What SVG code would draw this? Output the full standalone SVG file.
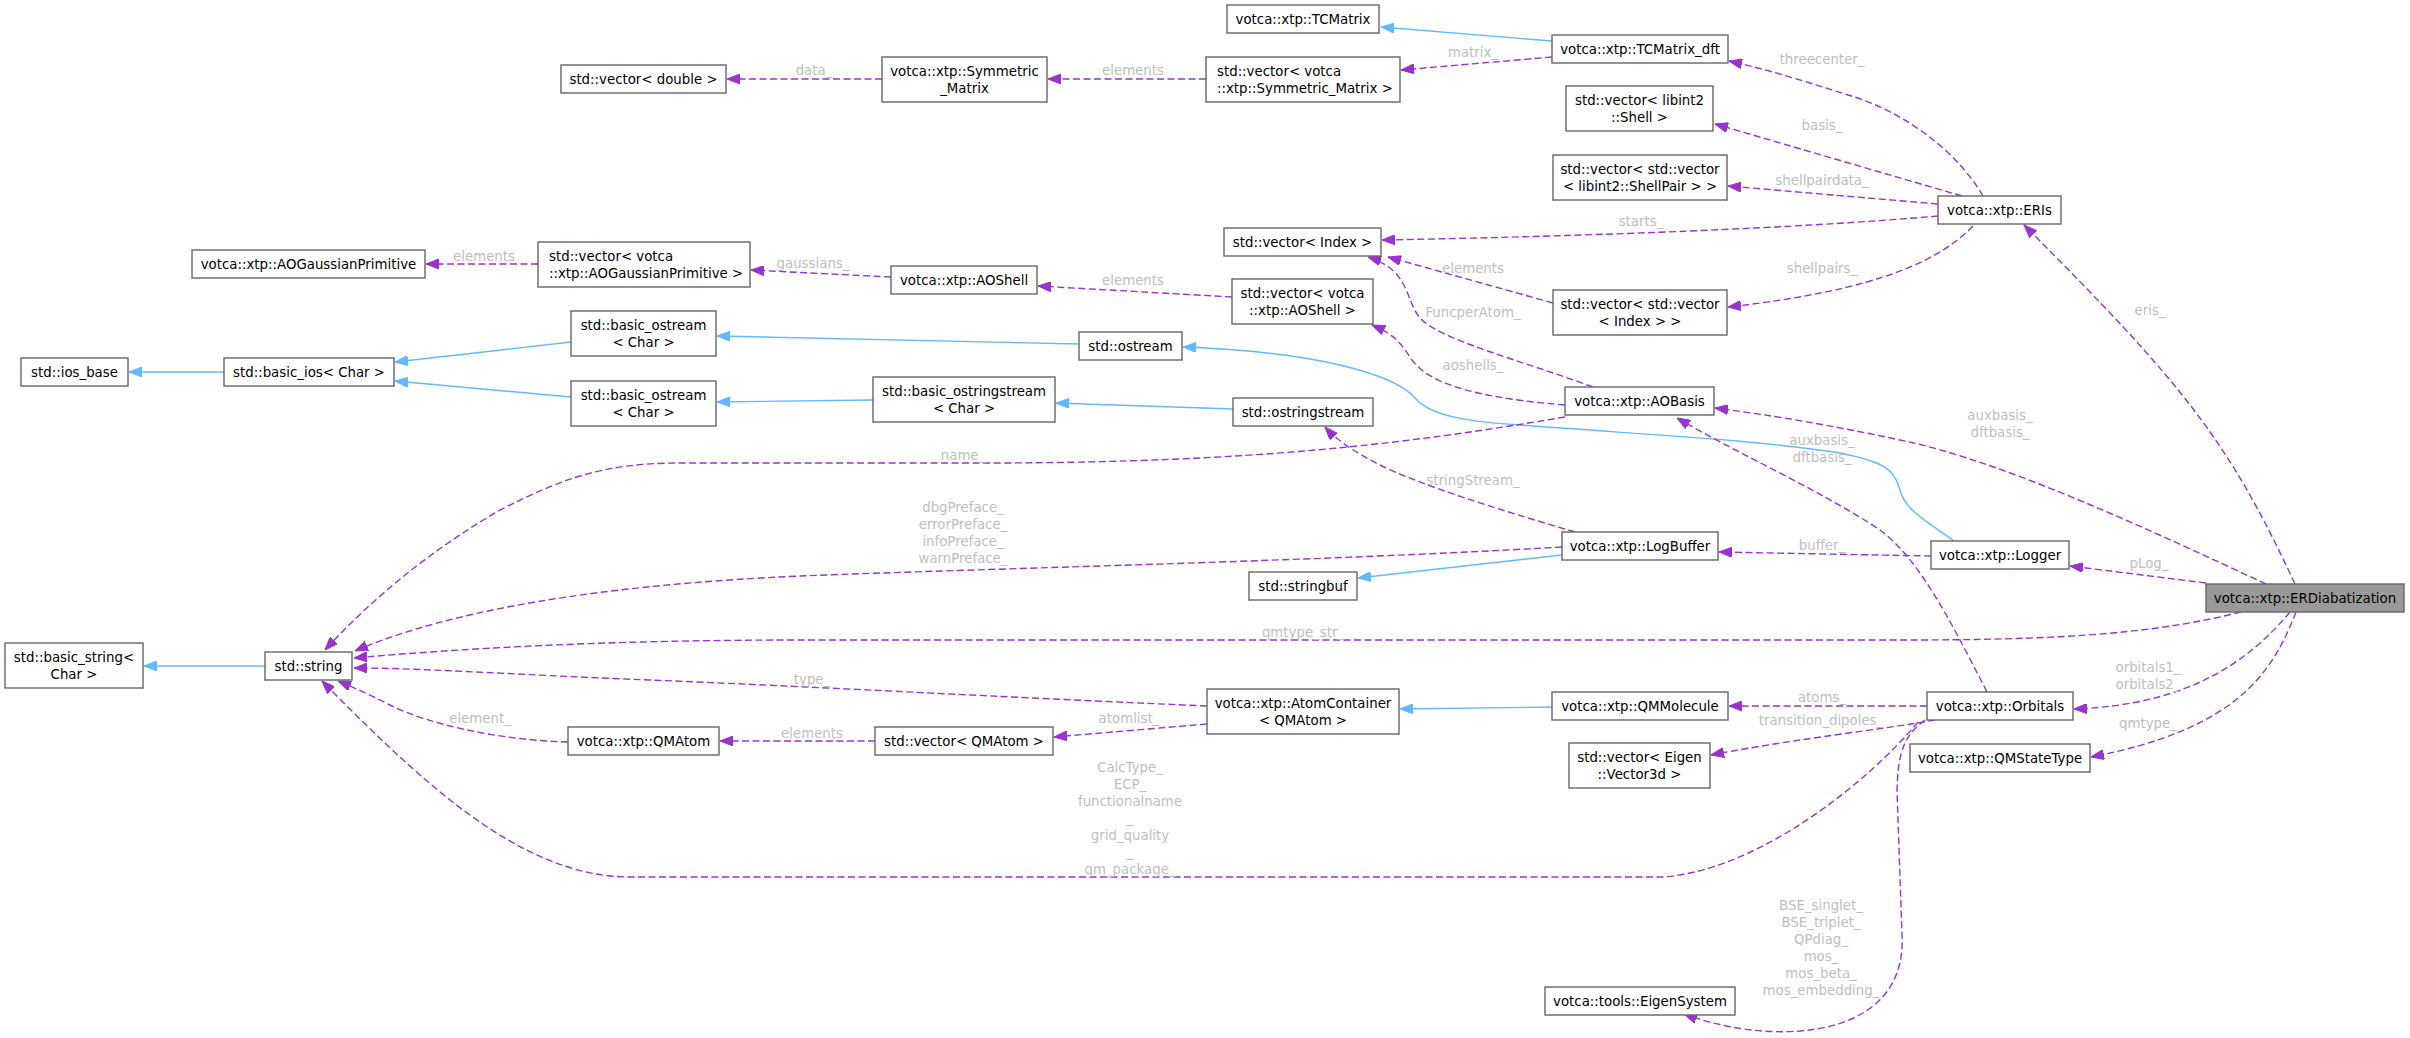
<svg xmlns="http://www.w3.org/2000/svg" width="2410" height="1038" viewBox="0 0 2410 1038">
<style>
.node rect{fill:#ffffff;stroke:#666666;stroke-width:1.4}
.node rect.main{fill:#999999}
.node text{font-family:"DejaVu Sans","Liberation Sans",sans-serif;font-size:13.33px;fill:#000000;text-anchor:middle}
.node text.l{text-anchor:start}
.e{fill:none;stroke:#9a32cd;stroke-width:1.4;stroke-dasharray:7,3.5;marker-end:url(#ap)}
.b{fill:none;stroke:#63b8ff;stroke-width:1.4;marker-end:url(#ab)}
.lbl{font-family:"DejaVu Sans","Liberation Sans",sans-serif;font-size:13.33px;fill:#bebebe;text-anchor:middle}
</style>
<defs>
<marker id="ap" viewBox="0 0 13 10" refX="13" refY="5" markerWidth="13" markerHeight="10" markerUnits="userSpaceOnUse" orient="auto"><path d="M0,0 L13,5 L0,10 z" fill="#9a32cd" stroke="#9a32cd" stroke-width="1"/></marker>
<marker id="ab" viewBox="0 0 13 10" refX="13" refY="5" markerWidth="13" markerHeight="10" markerUnits="userSpaceOnUse" orient="auto"><path d="M0,0 L13,5 L0,10 z" fill="#63b8ff" stroke="#63b8ff" stroke-width="1"/></marker>
</defs>
<rect width="2410" height="1038" fill="#ffffff"/>
<g id="connectors">
<path class="b" d="M1552,41 L1381,27"/>
<path class="b" d="M224,372 L129,372"/>
<path class="b" d="M571,342 L395,362"/>
<path class="b" d="M571,397 L395,381"/>
<path class="b" d="M1079,344 L717,336"/>
<path class="b" d="M873,400 L717,402"/>
<path class="b" d="M1233,409 L1056,403"/>
<path class="b" d="M1954,541 C1925,520 1905,510 1900,490 C1895,470 1885,462 1840,453 C1760,440 1650,435 1520,425 C1460,421 1430,415 1415,398 C1395,375 1320,352 1183,347"/>
<path class="b" d="M1562,555 L1358,578"/>
<path class="b" d="M1552,707 L1400,709"/>
<path class="b" d="M265,666 L144,666"/>

<path class="e" d="M882,79 L727,79"/>
<text class="lbl" x="814" y="74.5">data_</text>
<path class="e" d="M1206,79 L1048,79"/>
<text class="lbl" x="1133" y="74.5">elements</text>
<path class="e" d="M1552,57 L1401,70"/>
<text class="lbl" x="1473" y="56.5">matrix_</text>
<path class="e" d="M1983,196 C1955,148 1900,110 1848,95 C1810,83 1770,70 1729,61"/>
<text class="lbl" x="1822" y="63.5">threecenter_</text>
<path class="e" d="M1962,196 L1715,124"/>
<text class="lbl" x="1822" y="129.5">basis_</text>
<path class="e" d="M1938,204 L1728,186"/>
<text class="lbl" x="1822" y="184.5">shellpairdata_</text>
<path class="e" d="M1938,216 C1800,228 1600,236 1382,240"/>
<text class="lbl" x="1641" y="225.5">starts_</text>
<path class="e" d="M1973,226 C1940,260 1880,290 1728,307"/>
<text class="lbl" x="1822" y="272.5">shellpairs_</text>
<path class="e" d="M1553,303 L1388,257"/>
<text class="lbl" x="1473" y="272.5">elements</text>
<path class="e" d="M1593,387 C1520,360 1440,340 1420,318 C1405,300 1410,270 1368,257"/>
<text class="lbl" x="1473" y="316.5">FuncperAtom_</text>
<path class="e" d="M1565,405 C1480,398 1430,385 1412,360 C1400,342 1395,335 1372,325"/>
<text class="lbl" x="1473" y="369.5">aoshells_</text>
<path class="e" d="M1232,297 L1038,286"/>
<text class="lbl" x="1133" y="284.5">elements</text>
<path class="e" d="M891,277 L751,270"/>
<text class="lbl" x="813" y="267.5">gaussians_</text>
<path class="e" d="M538,264 L426,264"/>
<text class="lbl" x="484" y="260.5">elements</text>
<path class="e" d="M2295,584 C2228,440 2183,384 2024,225"/>
<text class="lbl" x="2150" y="314.5">eris_</text>
<path class="e" d="M2266,584 C2150,530 2000,460 1900,440 C1830,425 1770,415 1715,408"/>
<text class="lbl" x="2000" y="419.5">auxbasis_</text>
<text class="lbl" x="2000" y="436.5">dftbasis_</text>
<path class="e" d="M1987,692 C1950,620 1920,560 1880,530 C1820,490 1740,455 1677,418"/>
<text class="lbl" x="1822" y="444.5">auxbasis_</text>
<text class="lbl" x="1822" y="461.5">dftbasis_</text>
<path class="e" d="M1931,556 L1719,552"/>
<text class="lbl" x="1822" y="549.5">buffer_</text>
<path class="e" d="M2206,583 L2070,566"/>
<text class="lbl" x="2149" y="567.5">pLog_</text>
<path class="e" d="M2241,612 C2150,635 2050,640 1900,640 L800,640 C650,640 500,645 354,658"/>
<text class="lbl" x="1303" y="636.5">qmtype_str_</text>
<path class="e" d="M1562,547 C1300,562 1000,568 800,576 C600,585 450,610 355,651"/>
<text class="lbl" x="963" y="511.5">dbgPreface_</text>
<text class="lbl" x="963" y="528.5">errorPreface_</text>
<text class="lbl" x="963" y="545.5">infoPreface_</text>
<text class="lbl" x="963" y="562.5">warnPreface_</text>
<path class="e" d="M1565,417 C1400,445 1250,462 1000,463 L680,463 C600,463 560,480 500,510 C440,545 380,590 325,650"/>
<text class="lbl" x="963" y="459.5">name_</text>
<path class="e" d="M1575,532 C1500,510 1420,485 1380,465 C1350,450 1335,438 1325,427"/>
<text class="lbl" x="1473" y="484.5">stringStream_</text>
<path class="e" d="M1207,706 C1000,697 800,686 650,680 C500,674 420,668 354,668"/>
<text class="lbl" x="812" y="683.5">type_</text>
<path class="e" d="M1207,724 L1054,737"/>
<text class="lbl" x="1129" y="722.5">atomlist_</text>
<path class="e" d="M875,741 L720,741"/>
<text class="lbl" x="812" y="737.5">elements</text>
<path class="e" d="M568,742 C500,740 430,725 390,705 C370,695 355,688 338,681"/>
<text class="lbl" x="480" y="722.5">element_</text>
<path class="e" d="M1918,722 C1870,780 1760,870 1663,877 L630,877 C520,877 420,780 322,681"/>
<text class="lbl" x="1130" y="771.5">CalcType_</text>
<text class="lbl" x="1130" y="788.5">ECP_</text>
<text class="lbl" x="1130" y="805.5">functionalname</text>
<text class="lbl" x="1130" y="822.5">_</text>
<text class="lbl" x="1130" y="839.5">grid_quality</text>
<text class="lbl" x="1130" y="856.5">_</text>
<text class="lbl" x="1130" y="873.5">qm_package_</text>
<path class="e" d="M1925,720 C1905,735 1898,750 1897,790 L1902,935 C1905,990 1870,1025 1800,1031 C1760,1034 1720,1027 1684,1014"/>
<text class="lbl" x="1821" y="909.5">BSE_singlet_</text>
<text class="lbl" x="1821" y="926.5">BSE_triplet_</text>
<text class="lbl" x="1821" y="943.5">QPdiag_</text>
<text class="lbl" x="1821" y="960.5">mos_</text>
<text class="lbl" x="1821" y="977.5">mos_beta_</text>
<text class="lbl" x="1821" y="994.5">mos_embedding_</text>
<path class="e" d="M1927,706 L1729,706"/>
<text class="lbl" x="1822" y="701.5">atoms_</text>
<path class="e" d="M1935,720 C1880,730 1800,738 1711,755"/>
<text class="lbl" x="1821" y="724.5">transition_dipoles_</text>
<path class="e" d="M2290,612 C2250,660 2190,705 2074,709"/>
<text class="lbl" x="2148" y="671.5">orbitals1_</text>
<text class="lbl" x="2148" y="688.5">orbitals2_</text>
<path class="e" d="M2296,612 C2270,680 2230,730 2091,757"/>
<text class="lbl" x="2148" y="727.5">qmtype_</text>
</g>

<g id="n_vecdouble" class="node"><rect x="561" y="65" width="165" height="28"/><text x="643.5" y="83.7">std::vector&lt; double &gt;</text></g>
<g id="n_symmat" class="node"><rect x="882" y="57" width="165" height="45"/><text x="964.5" y="75.7">votca::xtp::Symmetric</text><text x="964.5" y="92.7">_Matrix</text></g>
<g id="n_vecsymmat" class="node"><rect x="1206" y="57" width="194" height="45"/><text class="l" x="1217" y="75.7">std::vector&lt; votca</text><text class="l" x="1217" y="92.7">::xtp::Symmetric_Matrix &gt;</text></g>
<g id="n_tcmatrix" class="node"><rect x="1227" y="5" width="152" height="28"/><text x="1303" y="23.7">votca::xtp::TCMatrix</text></g>
<g id="n_tcmatrixdft" class="node"><rect x="1552" y="35" width="176" height="28"/><text x="1640" y="53.7">votca::xtp::TCMatrix_dft</text></g>
<g id="n_vecshell" class="node"><rect x="1566" y="86" width="147" height="45"/><text x="1639.5" y="104.7">std::vector&lt; libint2</text><text x="1639.5" y="121.7">::Shell &gt;</text></g>
<g id="n_vecshellpair" class="node"><rect x="1553" y="155" width="174" height="45"/><text x="1640" y="173.7">std::vector&lt; std::vector</text><text x="1640" y="190.7">&lt; libint2::ShellPair &gt; &gt;</text></g>
<g id="n_vecindex" class="node"><rect x="1224" y="228" width="157" height="28"/><text x="1302.5" y="246.7">std::vector&lt; Index &gt;</text></g>
<g id="n_vecvecindex" class="node"><rect x="1553" y="290" width="174" height="45"/><text x="1640" y="308.7">std::vector&lt; std::vector</text><text x="1640" y="325.7">&lt; Index &gt; &gt;</text></g>
<g id="n_eris" class="node"><rect x="1938" y="196" width="123" height="28"/><text x="1999.5" y="214.7">votca::xtp::ERIs</text></g>
<g id="n_aogp" class="node"><rect x="192" y="250" width="233" height="28"/><text x="308.5" y="268.7">votca::xtp::AOGaussianPrimitive</text></g>
<g id="n_vecaogp" class="node"><rect x="538" y="242" width="212" height="45"/><text class="l" x="549" y="260.7">std::vector&lt; votca</text><text class="l" x="549" y="277.7">::xtp::AOGaussianPrimitive &gt;</text></g>
<g id="n_aoshell" class="node"><rect x="891" y="266" width="146" height="28"/><text x="964" y="284.7">votca::xtp::AOShell</text></g>
<g id="n_vecaoshell" class="node"><rect x="1232" y="279" width="141" height="45"/><text x="1302.5" y="297.7">std::vector&lt; votca</text><text x="1302.5" y="314.7">::xtp::AOShell &gt;</text></g>
<g id="n_aobasis" class="node"><rect x="1565" y="387" width="149" height="28"/><text x="1639.5" y="405.7">votca::xtp::AOBasis</text></g>
<g id="n_iosbase" class="node"><rect x="21" y="358" width="107" height="28"/><text x="74.5" y="376.7">std::ios_base</text></g>
<g id="n_basicios" class="node"><rect x="224" y="358" width="170" height="28"/><text x="309" y="376.7">std::basic_ios&lt; Char &gt;</text></g>
<g id="n_bostream1" class="node"><rect x="571" y="311" width="145" height="45"/><text x="643.5" y="329.7">std::basic_ostream</text><text x="643.5" y="346.7">&lt; Char &gt;</text></g>
<g id="n_bostream2" class="node"><rect x="571" y="381" width="145" height="45"/><text x="643.5" y="399.7">std::basic_ostream</text><text x="643.5" y="416.7">&lt; Char &gt;</text></g>
<g id="n_ostream" class="node"><rect x="1079" y="332" width="103" height="28"/><text x="1130.5" y="350.7">std::ostream</text></g>
<g id="n_bostringstream" class="node"><rect x="873" y="377" width="182" height="45"/><text x="964" y="395.7">std::basic_ostringstream</text><text x="964" y="412.7">&lt; Char &gt;</text></g>
<g id="n_ostringstream" class="node"><rect x="1233" y="398" width="140" height="28"/><text x="1303" y="416.7">std::ostringstream</text></g>
<g id="n_stringbuf" class="node"><rect x="1249" y="572" width="108" height="28"/><text x="1303" y="590.7">std::stringbuf</text></g>
<g id="n_logbuffer" class="node"><rect x="1562" y="532" width="156" height="28"/><text x="1640" y="550.7">votca::xtp::LogBuffer</text></g>
<g id="n_logger" class="node"><rect x="1931" y="541" width="138" height="28"/><text x="2000" y="559.7">votca::xtp::Logger</text></g>
<g id="n_erdiab" class="node"><rect class="main" x="2206" y="584" width="198" height="28"/><text x="2305" y="602.7">votca::xtp::ERDiabatization</text></g>
<g id="n_basicstring" class="node"><rect x="5" y="643" width="138" height="45"/><text x="74" y="661.7">std::basic_string&lt;</text><text x="74" y="678.7">Char &gt;</text></g>
<g id="n_string" class="node"><rect x="265" y="652" width="87" height="28"/><text x="308.5" y="670.7">std::string</text></g>
<g id="n_qmatom" class="node"><rect x="568" y="727" width="151" height="28"/><text x="643.5" y="745.7">votca::xtp::QMAtom</text></g>
<g id="n_vecqmatom" class="node"><rect x="875" y="727" width="178" height="28"/><text x="964" y="745.7">std::vector&lt; QMAtom &gt;</text></g>
<g id="n_atomcontainer" class="node"><rect x="1207" y="689" width="192" height="45"/><text x="1303" y="707.7">votca::xtp::AtomContainer</text><text x="1303" y="724.7">&lt; QMAtom &gt;</text></g>
<g id="n_qmmolecule" class="node"><rect x="1552" y="692" width="176" height="28"/><text x="1640" y="710.7">votca::xtp::QMMolecule</text></g>
<g id="n_orbitals" class="node"><rect x="1927" y="692" width="146" height="28"/><text x="2000" y="710.7">votca::xtp::Orbitals</text></g>
<g id="n_veceigen" class="node"><rect x="1569" y="743" width="141" height="45"/><text x="1639.5" y="761.7">std::vector&lt; Eigen</text><text x="1639.5" y="778.7">::Vector3d &gt;</text></g>
<g id="n_qmstatetype" class="node"><rect x="1910" y="744" width="180" height="28"/><text x="2000" y="762.7">votca::xtp::QMStateType</text></g>
<g id="n_eigensystem" class="node"><rect x="1545" y="987" width="190" height="28"/><text x="1640" y="1005.7">votca::tools::EigenSystem</text></g>
</svg>
